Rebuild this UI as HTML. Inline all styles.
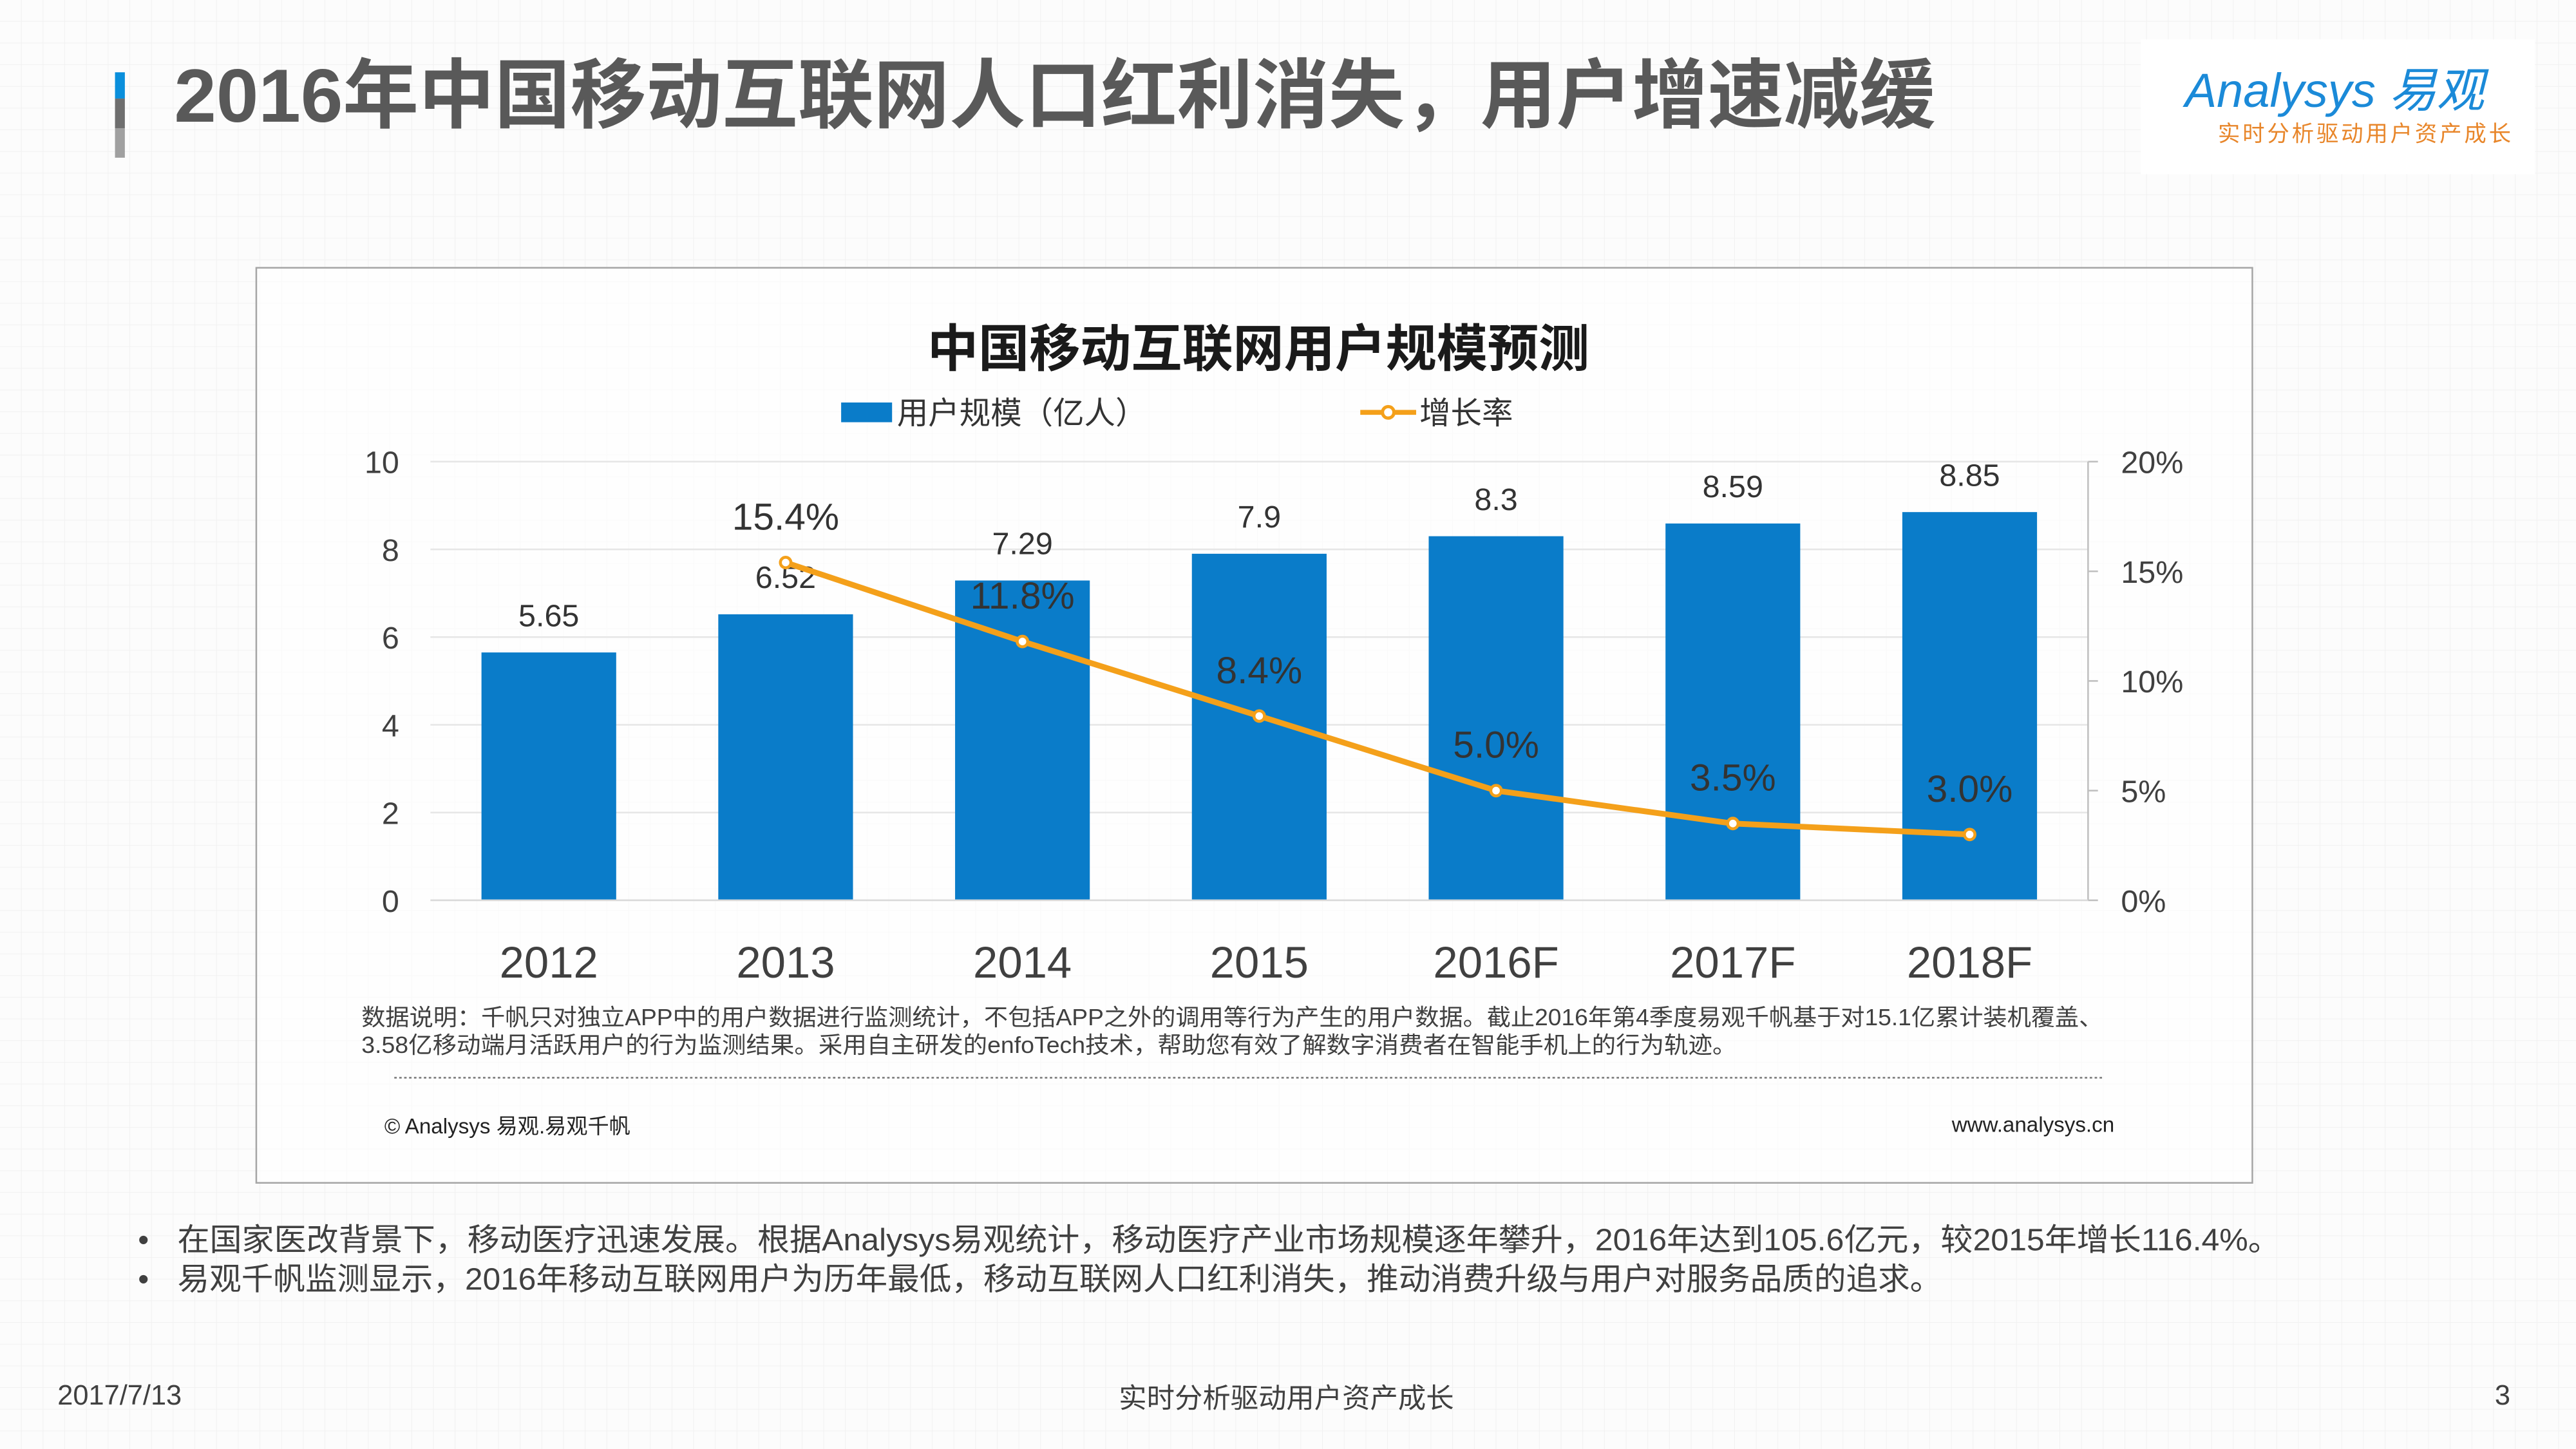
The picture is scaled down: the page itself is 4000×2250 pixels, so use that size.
<!DOCTYPE html>
<html><head><meta charset="utf-8">
<style>
html,body{margin:0;padding:0;background:#fcfcfc;}
svg{display:block;}
text{font-family:"Liberation Sans","Noto Sans CJK SC",sans-serif;}
</style></head>
<body>
<svg id="root" width="4000" height="2250" viewBox="0 0 1568 882" xmlns="http://www.w3.org/2000/svg">
<defs>
<pattern id="grid" width="13.2" height="13.2" patternUnits="userSpaceOnUse">
<path d="M13.2 0V13.2H0" fill="none" stroke="#f1f1f1" stroke-width="0.8"/>
</pattern>
</defs>
<rect width="1568" height="882" fill="#fcfcfc"/>
<rect width="1568" height="882" fill="url(#grid)"/>
<g>
<rect x="70" y="44" width="6" height="16" fill="#0a8fdc"/>
<rect x="70" y="60" width="6" height="18" fill="#6e6e6e"/>
<rect x="70" y="78" width="6" height="18" fill="#a0a0a0"/>
</g>
<text x="106" y="74" font-size="46" font-weight="bold" fill="#595959" textLength="1072" lengthAdjust="spacingAndGlyphs">2016年中国移动互联网人口红利消失，用户增速减缓</text>
<g>
<rect x="1303" y="24" width="240" height="82" fill="#ffffff"/>
<text x="1330" y="65" font-size="29" fill="#1b8ad8" font-style="italic">Analysys 易观</text>
<text x="1350" y="86" font-size="13.5" fill="#e8862a" letter-spacing="1.5">实时分析驱动用户资产成长</text>
</g>
<rect x="156" y="163" width="1215" height="557" fill="#ffffff" fill-opacity="0.6" stroke="#a6a6a6" stroke-width="1"/>
<text x="766" y="223" text-anchor="middle" font-size="31" font-weight="bold" fill="#1a1a1a">中国移动互联网用户规模预测</text>
<g>
<g>
<rect x="512" y="245" width="31" height="12" fill="#0a7cc9"/>
<text x="546" y="258" font-size="19" fill="#333">用户规模（亿人）</text>
</g>
<g>
<line x1="828" y1="251" x2="862" y2="251" stroke="#f4a01a" stroke-width="3"/>
<circle cx="845" cy="251" r="3.5" fill="#fff" stroke="#f4a01a" stroke-width="2"/>
<text x="864" y="258" font-size="19" fill="#333">增长率</text>
</g>
</g>
<g id="plot"></g>
<text x="220" y="624" font-size="14" fill="#404040" textLength="1060" lengthAdjust="spacingAndGlyphs">数据说明：千帆只对独立APP中的用户数据进行监测统计，不包括APP之外的调用等行为产生的用户数据。截止2016年第4季度易观千帆基于对15.1亿累计装机覆盖、</text>
<text x="220" y="641" font-size="14" fill="#404040" textLength="837" lengthAdjust="spacingAndGlyphs">3.58亿移动端月活跃用户的行为监测结果。采用自主研发的enfoTech技术，帮助您有效了解数字消费者在智能手机上的行为轨迹。</text>
<line x1="240" y1="656" x2="1280" y2="656" stroke="#777" stroke-width="1" stroke-dasharray="1.5,1.5"/>
<text x="234" y="690" font-size="13" fill="#222">© Analysys 易观.易观千帆</text>
<text x="1287" y="689" font-size="13" fill="#222" text-anchor="end">www.analysys.cn</text>
<g>
<text x="84" y="761" font-size="19" fill="#404040">•</text>
<text x="108" y="761" font-size="19" fill="#404040" textLength="1280" lengthAdjust="spacingAndGlyphs">在国家医改背景下，移动医疗迅速发展。根据Analysys易观统计，移动医疗产业市场规模逐年攀升，2016年达到105.6亿元，较2015年增长116.4%。</text>
<text x="84" y="785" font-size="19" fill="#404040">•</text>
<text x="108" y="785" font-size="19" fill="#404040" textLength="1074" lengthAdjust="spacingAndGlyphs">易观千帆监测显示，2016年移动互联网用户为历年最低，移动互联网人口红利消失，推动消费升级与用户对服务品质的追求。</text>
</g>
<text x="35" y="855" font-size="17" fill="#404040">2017/7/13</text>
<text x="783" y="857" font-size="17" fill="#404040" text-anchor="middle">实时分析驱动用户资产成长</text>
<text x="1528" y="855" font-size="17" fill="#404040" text-anchor="end">3</text>
</svg>
<script>
const categories = ["2012","2013","2014","2015","2016F","2017F","2018F"];
const userValues = [5.65,6.52,7.29,7.9,8.3,8.59,8.85];
const userLabels = ["5.65","6.52","7.29","7.9","8.3","8.59","8.85"];
const growthCats = ["2013","2014","2015","2016F","2017F","2018F"];
const growthValues = [15.4,11.8,8.4,5.0,3.5,3.0];
const growthLabels = ["15.4%","11.8%","8.4%","5.0%","3.5%","3.0%"];
const leftTicks = [0,2,4,6,8,10];
const rightTicks = [0,5,10,15,20];

const NS="http://www.w3.org/2000/svg";
const plot=document.getElementById('plot');
const X0=262, X1=1271, Y0=548, Y1=281;
const band=(X1-X0)/categories.length;
const xc=c=>X0+band*(categories.indexOf(c)+0.5);
const yL=v=>Y0-(v/10)*(Y0-Y1);
const yR=v=>Y0-(v/20)*(Y0-Y1);
function mk(tag,attrs,parent){const e=document.createElementNS(NS,tag);for(const k in attrs)e.setAttribute(k,attrs[k]);(parent||plot).appendChild(e);return e;}

leftTicks.forEach(t=>{
  if(t>0){const g=mk('line',{x1:X0,x2:X1,y1:yL(t),y2:yL(t),stroke:'#e6e6e6','stroke-width':1});
  
  }
  const tx=mk('text',{x:243,y:yL(t)+7,'font-size':19,fill:'#404040','text-anchor':'end'});
  tx.textContent=t;
  
  
});
const ax=mk('line',{x1:1271,x2:1271,y1:Y1,y2:Y0,stroke:'#bfbfbf','stroke-width':1});


rightTicks.forEach(t=>{
  const tk=mk('line',{x1:1271,x2:1277,y1:yR(t),y2:yR(t),stroke:'#bfbfbf','stroke-width':1});
  
  
  const tx=mk('text',{x:1291,y:yR(t)+7,'font-size':19,fill:'#404040'});
  tx.textContent=t+'%';
  
  
});
const bw=82;
categories.forEach((c,i)=>{
  const b=mk('rect',{x:xc(c)-bw/2,y:yL(userValues[i]),width:bw,height:Y0-yL(userValues[i]),fill:'#0a7cc9'});
  
  
  const l=mk('text',{x:xc(c),y:yL(userValues[i])-16,'font-size':19,fill:'#333','text-anchor':'middle'});
  l.textContent=userLabels[i];
  
  
  const xl=mk('text',{x:xc(c),y:595,'font-size':27,fill:'#404040','text-anchor':'middle'});
  xl.textContent=c;
  
  
});
const axis=mk('line',{x1:X0,x2:X1,y1:Y0,y2:Y0,stroke:'#d9d9d9','stroke-width':1});


const pts=growthCats.map((c,i)=>xc(c)+','+yR(growthValues[i])).join(' ');
const pl=mk('polyline',{points:pts,fill:'none',stroke:'#f4a01a','stroke-width':3.5,'stroke-linejoin':'round'});


growthCats.forEach((c,i)=>{
  const p=mk('circle',{cx:xc(c),cy:yR(growthValues[i]),r:3.2,fill:'#fff',stroke:'#f4a01a','stroke-width':1.8});
  
  
  const l=mk('text',{x:xc(c),y:yR(growthValues[i])-20,'font-size':23,fill:'#333','text-anchor':'middle'});
  l.textContent=growthLabels[i];
  
  
});
</script>
</body></html>
